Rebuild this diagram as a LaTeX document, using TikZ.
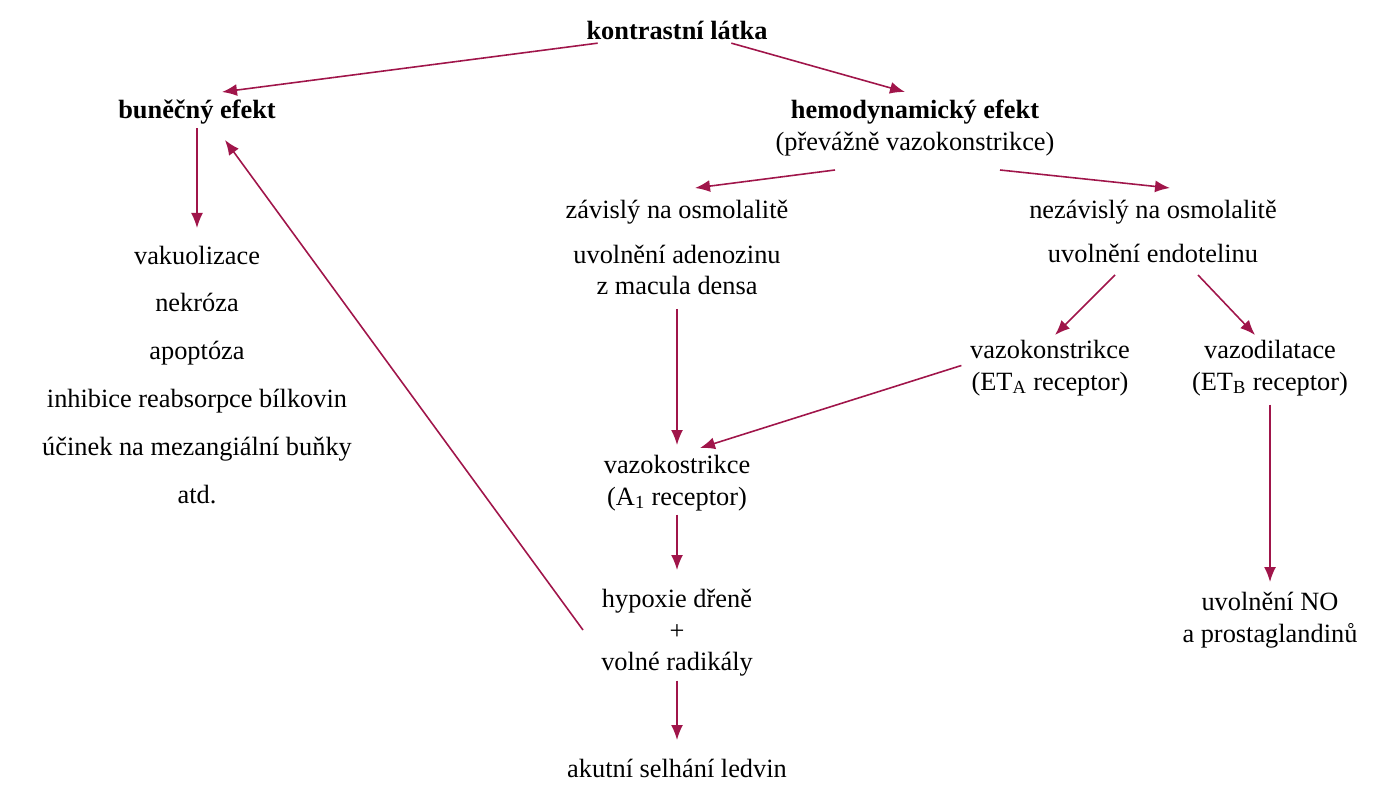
\documentclass[tikz,border=0pt]{standalone}
\usepackage{fontspec}
\setmainfont{Liberation Serif}
\usetikzlibrary{arrows.meta}
\definecolor{wine}{HTML}{A0154A}
\tikzset{%
  >={Latex[length=3mm,width=2.4mm]}, % arrow tips
  txt/.style={align=center,font=\fontsize{15}{24}\selectfont,inner sep=2pt},
  hd/.style={txt,font=\fontsize{15}{24}\selectfont\bfseries},
  link/.style={->,wine,line width=0.9pt}
}
\begin{document}
\begin{tikzpicture}
\useasboundingbox (0,0) rectangle (27.46,-16);
%nodes
\node[hd] (top) at (13.54,-0.6) {kontrastní látka};
\node[hd] (bun) at (3.94,-2.24) {buněčný efekt};
\node[txt] (hemo) at (18.3,-2.56) {\textbf{hemodynamický efekt}\\[-6pt](převážně vazokonstrikce)};
\node[txt] (list) at (3.94,-7.5) {vakuolizace\\[3.3pt]nekróza\\[3.3pt]apoptóza\\[3.3pt]inhibice reabsorpce bílkovin\\[3.3pt]účinek na mezangiální buňky\\[3.3pt]atd.};
\node[txt] (zav) at (13.54,-4.24) {závislý na osmolalitě};
\node[txt] (nez) at (23.06,-4.24) {nezávislý na osmolalitě};
\node[txt] (aden) at (13.54,-5.4) {uvolnění adenozinu\\[-6pt]z macula densa};
\node[txt] (endo) at (23.06,-5.06) {uvolnění endotelinu};
\node[txt] (vk) at (21.0,-7.36) {vazokonstrikce\\[-6pt](ET\textsubscript{A} receptor)};
\node[txt] (vd) at (25.4,-7.36) {vazodilatace\\[-6pt](ET\textsubscript{B} receptor)};
\node[txt] (aone) at (13.54,-9.66) {vazokostrikce\\[-6pt](A\textsubscript{1} receptor)};
\node[txt] (hyp) at (13.54,-12.66) {hypoxie dřeně\\[-6pt]+\\[-6pt]volné radikály};
\node[txt] (aku) at (13.54,-15.36) {akutní selhání ledvin};
\node[txt] (no) at (25.4,-12.4) {uvolnění NO\\[-6pt]a prostaglandinů};
%arrows
\draw[link] (top.south west) ++(0.3,0) -- (4.44,-1.84);
\draw[link] (top.south east) ++(-0.8,0) -- (18.1,-1.84);
\draw[link] (bun.south) -- (3.94,-4.56);
\draw[link] (16.7,-3.4) -- (13.9,-3.76);
\draw[link] (20.0,-3.4) -- (23.4,-3.76);
\draw[link] (22.3,-5.5) -- (21.1,-6.7);
\draw[link] (23.96,-5.5) -- (25.1,-6.7);
\draw[link] (aden.south) ++(0,-0.2) -- (13.54,-8.9);
\draw[link] (vk.west) ++(-0.1,0.05) -- (14.0,-8.96);
\draw[link] (vd.south) ++(0,-0.1) -- (25.4,-11.64);
\draw[link] (aone.south) -- (13.54,-11.4);
\draw[link] (hyp.south) -- (13.54,-14.8);
\draw[link] (11.66,-12.6) -- (4.5,-2.8);
\end{tikzpicture}
\end{document}
